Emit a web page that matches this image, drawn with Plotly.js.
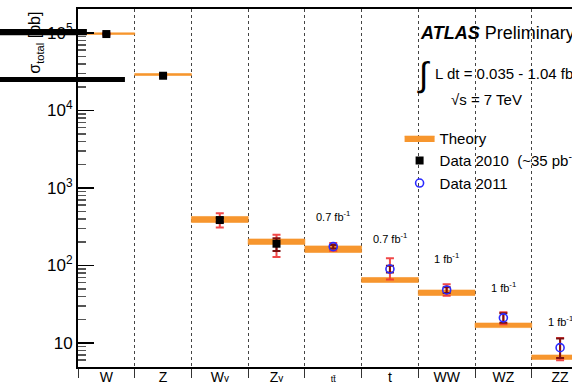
<!DOCTYPE html>
<html>
<head>
<meta charset="utf-8">
<script src="https://cdn.plot.ly/plotly-3.0.1.min.js"></script>
<style>
  html, body { margin: 0; padding: 0; background: #fff; }
  #chart { width: 572px; height: 382px; }
</style>
</head>
<body>
<div id="chart"></div>
<script>
// Processes on the x axis
const categories = ['W', 'Z', 'Wγ', 'Zγ', 'tt̄', 't', 'WW', 'WZ', 'ZZ'];

// Theory prediction band (pb): lower / upper edge per process
const theoryLow  = [95700, 28300, 359, 187, 147, 60.4, 41.0, 15.8, 6.13];
const theoryHigh = [100500, 30000, 429, 220, 179, 70.0, 48.3, 18.1, 7.00];

// 2010 measurements (~35 pb^-1)
const idx2010     = [0, 1, 2, 3];
const sigma2010   = [97000, 28100, 386, 191];
const totUp2010   = [4000, 1300, 85, 59];
const totDown2010 = [4000, 1300, 77, 62];
const statUp2010  = [600, 200, 25, 33];
const statDown2010= [600, 200, 25, 37];

// 2011 measurements
const idx2011     = [4, 5, 6, 7, 8];
const sigma2011   = [175, 90, 48.3, 21.1, 8.7];
const totUp2011   = [20, 34, 9.1, 3.8, 2.9];
const totDown2011 = [20, 24, 7.6, 3.6, 2.7];
const statUp2011  = [9, 9, 4, 3.1, 2.7];
const statDown2011= [9, 9, 4, 2.8, 2.3];

// Integrated luminosity labels for the 2011 results
const lumiIdx    = [4, 5, 6, 7, 8];
const lumiLabels = ['0.7 fb<sup>-1</sup>', '0.7 fb<sup>-1</sup>', '1 fb<sup>-1</sup>', '1 fb<sup>-1</sup>', '1 fb<sup>-1</sup>'];
const lumiY      = [2.64, 2.355, 2.097, 1.723, 1.284];   // log10(pb) height of each label

// Y axis decade labels
const yTickVals = [10, 100, 1000, 10000, 100000];
const yTickText = ['10', '10<sup>2</sup>', '10<sup>3</sup>', '10<sup>4</sup>', '10<sup>5</sup>'];

const FONT = 'Liberation Sans, Arial, Helvetica, sans-serif';
const ORANGE = '#f7962e';
const RED = 'rgba(238,52,52,0.9)';
const DARKRED = '#7d1010';

// Theory band: one closed rectangle per process, segments separated by gaps
const bandX = [], bandY = [];
categories.forEach((c, i) => {
  bandX.push(i - 0.5, i + 0.5, i + 0.5, i - 0.5, i - 0.5, null);
  bandY.push(theoryLow[i], theoryLow[i], theoryHigh[i], theoryHigh[i], theoryLow[i], null);
});

// Tick labels: the photon and top-bar glyphs are set smaller
const tickText = categories.map(c => {
  if (c.endsWith('γ')) return c.slice(0, -1) + '<span style="font-size:10px">γ</span>';
  if (c === 'tt̄') return '<span style="font-size:9px">' + c + '</span>';
  return c;
});

const minorY = [];
for (let k = 0; k <= 5; k++) for (let d = 2; d <= 9; d++) minorY.push(d * Math.pow(10, k));

const traces = [
  {
    name: 'Theory', type: 'scatter', mode: 'lines',
    x: bandX, y: bandY, fill: 'toself', fillcolor: ORANGE,
    line: { color: ORANGE, width: 0.6 }, hoverinfo: 'skip'
  },
  {
    name: 'Data 2010 total', showlegend: false, type: 'scatter', mode: 'markers',
    x: idx2010, y: sigma2010, marker: { size: 1, opacity: 0 },
    error_y: { type: 'data', symmetric: false, array: totUp2010, arrayminus: totDown2010,
               color: RED, thickness: 2, width: 4 }
  },
  {
    name: 'Data 2010\u00a0 (~35 pb<sup>-1</sup>)', type: 'scatter', mode: 'markers',
    x: idx2010, y: sigma2010,
    marker: { symbol: 'square', size: 8, color: '#000' },
    error_y: { type: 'data', symmetric: false, array: statUp2010, arrayminus: statDown2010,
               color: DARKRED, thickness: 2, width: 4 }
  },
  {
    name: 'Data 2011 total', showlegend: false, type: 'scatter', mode: 'markers',
    x: idx2011, y: sigma2011, marker: { size: 1, opacity: 0 },
    error_y: { type: 'data', symmetric: false, array: totUp2011, arrayminus: totDown2011,
               color: RED, thickness: 2, width: 4 }
  },
  {
    name: 'Data 2011', type: 'scatter', mode: 'markers',
    x: idx2011, y: sigma2011,
    marker: { symbol: 'circle-open', size: 8, color: '#2a2aff', line: { width: 1.6, color: '#2a2aff' } },
    error_y: { type: 'data', symmetric: false, array: statUp2011, arrayminus: statDown2011,
               color: DARKRED, thickness: 2, width: 4 }
  }
];

const annotations = [
  { xref: 'paper', yref: 'paper', x: 0.688, y: 0.933, xanchor: 'left', yanchor: 'middle', showarrow: false,
    text: '<b><i>ATLAS</i></b> Preliminary', font: { family: FONT, size: 18, color: '#000' } },
  { xref: 'paper', yref: 'paper', x: 0.700, y: 0.818, xanchor: 'center', yanchor: 'middle', showarrow: false,
    text: '∫', font: { family: FONT, size: 34, color: '#000' } },
  { xref: 'paper', yref: 'paper', x: 0.719, y: 0.824, xanchor: 'left', yanchor: 'middle', showarrow: false,
    text: 'L dt = 0.035 - 1.04 fb<sup>-1</sup>', font: { family: FONT, size: 15, color: '#000' } },
  { xref: 'paper', yref: 'paper', x: 0.752, y: 0.746, xanchor: 'left', yanchor: 'middle', showarrow: false,
    text: '√s = 7 TeV', font: { family: FONT, size: 15, color: '#000' } },
  { xref: 'paper', yref: 'paper', x: -0.085, y: 0.998, xanchor: 'center', yanchor: 'top', showarrow: false,
    textangle: -90, text: 'σ<sub>total</sub> [pb]', font: { family: FONT, size: 16, color: '#000' } }
];
lumiIdx.forEach((xi, j) => annotations.push({
  xref: 'x', yref: 'y', x: xi, y: lumiY[j], showarrow: false,
  text: lumiLabels[j], font: { family: FONT, size: 11, color: '#000' }
}));

const layout = {
  width: 572, height: 382,
  margin: { l: 78, r: 0, t: 9, b: 15, autoexpand: false },
  paper_bgcolor: '#fff', plot_bgcolor: '#fff',
  font: { family: FONT, color: '#000' },
  showlegend: true,
  legend: {
    x: 0.651, y: 0.685, xanchor: 'left', yanchor: 'top',
    bgcolor: 'rgba(0,0,0,0)', borderwidth: 0,
    font: { family: FONT, size: 15, color: '#000' },
    itemwidth: 30, tracegroupgap: 0
  },
  xaxis: {
    range: [-0.5, 8.21],
    tickmode: 'array', tickvals: categories.map((c, i) => i), ticktext: tickText,
    ticks: '', showgrid: false, zeroline: false,
    showline: true, linecolor: '#000', linewidth: 2, mirror: true,
    tickfont: { family: FONT, size: 14, color: '#000' },
    ticklabelstandoff: -4,
    minor: { tick0: 0.5, dtick: 1, ticks: 'outside', ticklen: 9, tickwidth: 1, tickcolor: '#333',
             showgrid: true, gridcolor: '#444', griddash: 'dot', gridwidth: 1 }
  },
  yaxis: {
    type: 'log', range: [0.690, 5.310],
    tickmode: 'array', tickvals: yTickVals, ticktext: yTickText,
    ticks: 'inside', ticklen: 16, tickwidth: 1.5, tickcolor: '#000',
    showgrid: false, zeroline: false,
    showline: true, linecolor: '#000', linewidth: 2,
    tickfont: { family: FONT, size: 17, color: '#000' },
    minor: { tickmode: 'array', tickvals: minorY, ticks: 'inside', ticklen: 8, tickwidth: 1.5, tickcolor: '#555' }
  },
  annotations: annotations,
  shapes: [
    { type: 'rect', layer: 'above', xref: 'paper', yref: 'paper',
      x0: -0.16, x1: 0.018, y0: 0.927, y1: 0.944, fillcolor: '#000', line: { width: 0 } },
    { type: 'rect', layer: 'above', xref: 'paper', yref: 'paper',
      x0: -0.16, x1: 0.095, y0: 0.796, y1: 0.810, fillcolor: '#000', line: { width: 0 } }
  ]
};

Plotly.newPlot('chart', traces, layout, { displayModeBar: false, staticPlot: true });
</script>
</body>
</html>
